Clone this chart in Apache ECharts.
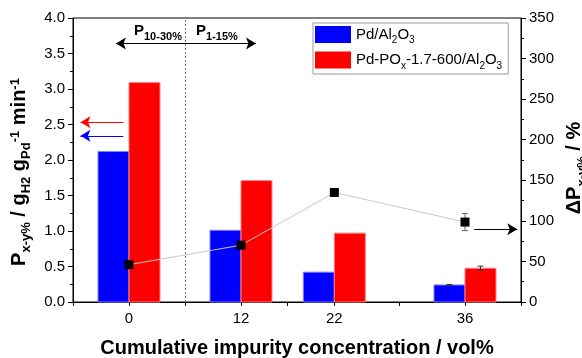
<!DOCTYPE html>
<html>
<head>
<meta charset="utf-8">
<script src="https://cdn.jsdelivr.net/npm/echarts@6/dist/echarts.min.js"></script>
<style>
  html, body { margin: 0; padding: 0; background: #fff; }
  #chart { width: 582px; height: 358px; }
</style>
</head>
<body>
<div id="chart"></div>
<script>
// data
const concentrations = [0, 12, 22, 36];
const pdAl2O3 = [2.12, 1.01, 0.42, 0.24];
const pdAl2O3Err = [0, 0, 0, 0.005];
const pdPOx = [3.09, 1.71, 0.97, 0.475];
const pdPOxErr = [0, 0, 0, 0.03];
const deltaP = [46, 70, 135, 98.5];
const deltaPErr = [0, 0, 0, 10.5];
const xLabelValues = [0, 12, 22, 36];
const xTickValues = [-6, 0, 6, 12, 17, 22, 29, 36, 42];
const regionBorder = 6; // dashed line between P10-30% and P1-15%

const nameA = 'Pd/Al2O3';
const nameB = 'Pd-POx-1.7-600/Al2O3';
const FONT = '"Liberation Sans", Arial, sans-serif';
const BAR_W = 31;

const chart = echarts.init(document.getElementById('chart'), null, { renderer: 'canvas' });

function pairs(xs, ys, es) {
  return xs.map((x, i) => es ? [x, ys[i], es[i]] : [x, ys[i]]);
}

// bars drawn as custom series so the value x axis keeps its -6..42 range
function barSeries(name, data, shift, color, border) {
  return {
    name: name,
    type: 'custom',
    silent: true,
    z: 2,
    itemStyle: { color: color },
    encode: { x: 0, y: 1 },
    data: data,
    renderItem: function (params, api) {
      const x = api.value(0), y = api.value(1);
      const base = api.coord([x, 0]);
      const top = api.coord([x, y]);
      return {
        type: 'rect',
        shape: { x: base[0] + shift, y: top[1], width: BAR_W, height: base[1] - top[1] },
        style: { fill: color, stroke: border, lineWidth: 1 }
      };
    }
  };
}

// error bars, shifted in pixels to sit on the right bar
function errorSeries(data, yAxisIndex, shift, color) {
  return {
    type: 'custom',
    yAxisIndex: yAxisIndex,
    silent: true,
    z: 5,
    data: data,
    renderItem: function (params, api) {
      const e = api.value(2);
      if (!e) return null;
      const x = api.value(0), y = api.value(1);
      const top = api.coord([x, y + e]);
      const bot = api.coord([x, y - e]);
      const cx = top[0] + shift;
      const cap = 3;
      const st = { stroke: color, lineWidth: 1 };
      return {
        type: 'group',
        children: [
          { type: 'line', shape: { x1: cx, y1: top[1], x2: cx, y2: bot[1] }, style: st },
          { type: 'line', shape: { x1: cx - cap, y1: top[1], x2: cx + cap, y2: top[1] }, style: st },
          { type: 'line', shape: { x1: cx - cap, y1: bot[1], x2: cx + cap, y2: bot[1] }, style: st }
        ]
      };
    }
  };
}

const richLegend = {
  n: { fontFamily: FONT, fontSize: 15, color: '#000', lineHeight: 18 },
  s: { fontFamily: FONT, fontSize: 10, color: '#000', verticalAlign: 'bottom', lineHeight: 10, padding: [0, 0, -2, 0] }
};

const richTitle = {
  b: { fontFamily: FONT, fontSize: 20, fontWeight: 'bold', color: '#000', lineHeight: 20 },
  s: { fontFamily: FONT, fontSize: 13, fontWeight: 'bold', color: '#000', verticalAlign: 'bottom', lineHeight: 12, padding: [0, 0, -4, 0] },
  p: { fontFamily: FONT, fontSize: 13, fontWeight: 'bold', color: '#000', verticalAlign: 'top', lineHeight: 12, padding: [0, 0, 0, 0] }
};

const subRich = {
  p: { fontFamily: FONT, fontSize: 15, fontWeight: 'bold', fill: '#000', lineHeight: 18 },
  s: { fontFamily: FONT, fontSize: 11, fontWeight: 'bold', fill: '#000', verticalAlign: 'bottom', lineHeight: 11, padding: [0, 0, -3, 0] }
};

const yAxisBase = {
  type: 'value',
  splitLine: { show: false },
  axisLine: { show: true, onZero: false, lineStyle: { color: '#000' } },
  axisTick: { show: true, length: 5, lineStyle: { color: '#000' } },
  minorTick: { show: true, splitNumber: 2, length: 3, lineStyle: { color: '#000' } },
  nameLocation: 'middle', nameRotate: 90
};

const option = {
  animation: false,
  backgroundColor: '#fff',
  grid: {
    left: 73, right: 61, top: 18, bottom: 56,
    outerBoundsMode: 'none', containLabel: false,
    show: true, borderColor: '#000', borderWidth: 1, backgroundColor: 'transparent'
  },
  legend: {
    left: 313, top: 23,
    orient: 'vertical',
    icon: 'rect',
    itemWidth: 36, itemHeight: 17, itemGap: 6,
    padding: [3, 6, 3, 2],
    borderColor: '#999', borderWidth: 1,
    data: [nameA, nameB],
    selectedMode: false,
    formatter: function (name) {
      if (name === nameA) return '{n|Pd/Al}{s|2}{n|O}{s|3}';
      return '{n|Pd-PO}{s|x}{n|-1.7-600/Al}{s|2}{n|O}{s|3}';
    },
    textStyle: { rich: richLegend }
  },
  xAxis: {
    type: 'value',
    min: -6, max: 42,
    splitLine: { show: false },
    axisLine: { onZero: false, lineStyle: { color: '#000', width: 1 } },
    axisTick: { customValues: xTickValues, length: 4, lineStyle: { color: '#000' } },
    axisLabel: { customValues: xLabelValues, color: '#000', fontFamily: FONT, fontSize: 15, margin: 9 },
    name: 'Cumulative impurity concentration / vol%',
    nameLocation: 'middle',
    nameGap: 36,
    nameTextStyle: { fontFamily: FONT, fontSize: 20, fontWeight: 'bold', color: '#000' }
  },
  yAxis: [
    Object.assign({}, yAxisBase, {
      min: 0, max: 4, interval: 0.5,
      axisLabel: { color: '#000', fontFamily: FONT, fontSize: 15, margin: 8, formatter: v => v.toFixed(1) },
      name: '{b|P}{s|x-y%}{b| / g}{s|H2}{b| g}{s|Pd}{p|-1}{b| min}{p|-1}',
      nameGap: 30,
      nameTextStyle: { rich: richTitle, padding: [0, 24, 0, 0] }
    }),
    Object.assign({}, yAxisBase, {
      min: 0, max: 350, interval: 50,
      axisLabel: { color: '#000', fontFamily: FONT, fontSize: 15, margin: 8 },
      name: '{b|ΔP}{s|x-y%}{b| / %}',
      nameGap: 42,
      nameTextStyle: { rich: richTitle, padding: [0, 16, 0, 0] }
    })
  ],
  graphic: [
    { type: 'text', left: 134, top: 23, style: { text: '{p|P}{s|10-30%}', rich: subRich } },
    { type: 'text', left: 196, top: 23, style: { text: '{p|P}{s|1-15%}', rich: subRich } }
  ],
  series: [
    barSeries(nameA, pairs(concentrations, pdAl2O3), -BAR_W, '#0000ff', '#7f7fff'),
    barSeries(nameB, pairs(concentrations, pdPOx), 0, '#ff0000', '#ff8080'),
    errorSeries(pairs(concentrations, pdAl2O3, pdAl2O3Err), 0, -BAR_W / 2, '#333'),
    errorSeries(pairs(concentrations, pdPOx, pdPOxErr), 0, BAR_W / 2, '#333'),
    {
      // annotations on the left axis
      name: 'annotations', type: 'line', yAxisIndex: 0, data: [], silent: true,
      markLine: {
        silent: true, symbol: ['none', 'none'], symbolSize: [9, 10],
        label: { show: false },
        lineStyle: { color: '#000', type: 'solid', width: 1 },
        data: [
          [{ coord: [-5.2, 2.53], symbol: 'arrow', lineStyle: { color: '#ff0000' } }, { coord: [-0.6, 2.53] }],
          [{ coord: [-5.2, 2.34], symbol: 'arrow', lineStyle: { color: '#0000ff' } }, { coord: [-0.6, 2.34] }],
          [{ coord: [-1.4, 3.64], symbol: 'arrow' }, { coord: [13.6, 3.64], symbol: 'arrow' }],
          { xAxis: regionBorder, lineStyle: { color: '#777', type: [2, 2] } }
        ]
      }
    },
    {
      name: 'deltaP', type: 'line', yAxisIndex: 1, z: 6,
      data: pairs(concentrations, deltaP),
      symbol: 'rect', symbolSize: 9, silent: true,
      lineStyle: { color: '#c8c8c8', width: 1 },
      itemStyle: { color: '#000' },
      markLine: {
        silent: true, symbol: ['none', 'arrow'], symbolSize: [9, 10],
        label: { show: false },
        lineStyle: { color: '#000', type: 'solid', width: 1 },
        data: [[{ coord: [37.0, 89.6] }, { coord: [41.6, 89.6] }]]
      }
    },
    errorSeries(pairs(concentrations, deltaP, deltaPErr), 1, 0, '#666')
  ]
};

chart.setOption(option);
</script>
</body>
</html>
